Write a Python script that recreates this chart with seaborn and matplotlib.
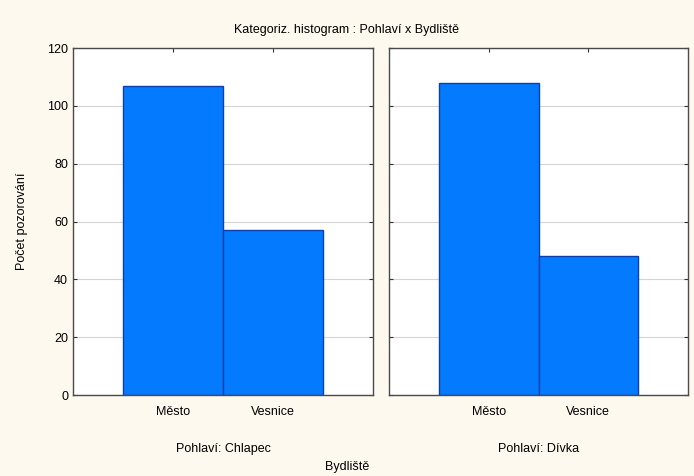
import matplotlib
matplotlib.use('Agg')
import matplotlib.pyplot as plt
import pandas as pd
import seaborn as sns

bydliste = ['Město', 'Vesnice']
chlapec = [107, 57]
divka = [108, 48]
panels = ['Pohlaví: Chlapec', 'Pohlaví: Dívka']
y_ticks = [0, 20, 40, 60, 80, 100, 120]

sns.set_style('white')
plt.rcParams['font.family'] = ['Liberation Sans', 'DejaVu Sans']
plt.rcParams['text.color'] = 'black'
plt.rcParams['axes.labelcolor'] = 'black'
plt.rcParams['xtick.color'] = 'black'
plt.rcParams['ytick.color'] = 'black'

bg = '#fdf9ef'
bar_color = '#047bff'
edge_color = '#0b3fae'

fig = plt.figure(figsize=(6.94, 4.76), dpi=100, facecolor=bg)
ax1 = fig.add_axes([73 / 694, 81 / 476, 300 / 694, 347 / 476])
ax2 = fig.add_axes([389 / 694, 81 / 476, 299 / 694, 347 / 476])

for ax, values, label in zip([ax1, ax2], [chlapec, divka], panels):
    df = pd.DataFrame({'Bydliště': bydliste, 'Počet': values})
    sns.barplot(data=df, x='Bydliště', y='Počet', ax=ax, width=1.0,
                color=bar_color, edgecolor=edge_color, linewidth=1.0,
                saturation=1)
    for p in ax.patches:
        p.set_facecolor(bar_color)
    ax.set_facecolor('white')
    ax.set_xlim(-1, 2)
    ax.set_ylim(0, 120)
    ax.set_yticks(y_ticks)
    ax.yaxis.grid(True, color='#d4d4d4', linewidth=0.8)
    ax.set_axisbelow(True)
    ax.tick_params(direction='in', length=3, color='#333333', labelsize=9,
                   labelcolor='black',
                   top=True, right=True, bottom=True, left=True)
    ax.tick_params(axis='x', pad=8)
    for s in ax.spines.values():
        s.set_color('#4a4a4a')
        s.set_linewidth(1.0)
    ax.set_xlabel(label, fontsize=9, labelpad=18, color='black')
    ax.set_ylabel('')

ax2.tick_params(labelleft=False)
ax1.set_ylabel('Počet pozorování', fontsize=9, labelpad=14, color='black')

fig.text(0.5, 1 - 30 / 476, 'Kategoriz. histogram : Pohlaví x Bydliště',
         ha='center', va='center', fontsize=9, color='black')
fig.text(0.5, 1 - 467 / 476, 'Bydliště', ha='center', va='center',
         fontsize=9, color='black')

fig.savefig('out.png', dpi=100, facecolor=bg)
